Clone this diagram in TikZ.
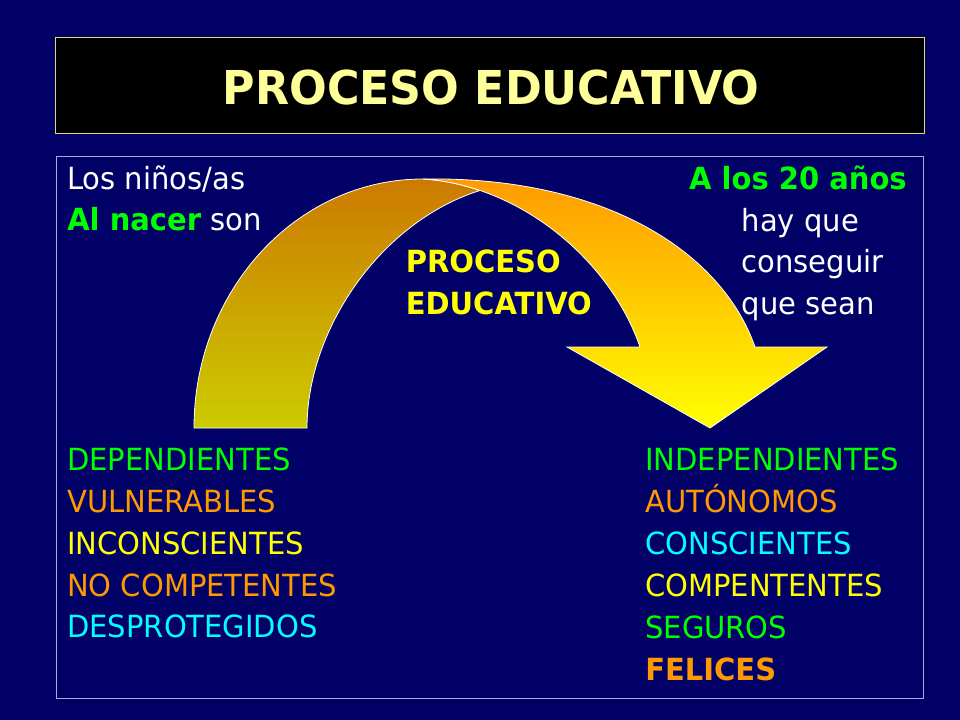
\documentclass[tikz,border=0pt]{standalone}
\usepackage{fontspec}
\setmainfont[FakeStretch=0.95]{DejaVu Sans}
\usepackage{tikz}
\definecolor{fondo}{RGB}{0,0,102}
\definecolor{titulo}{RGB}{255,255,153}
\definecolor{verde}{RGB}{0,255,0}
\definecolor{naranja}{RGB}{255,153,0}
\definecolor{amarillo}{RGB}{255,255,0}
\definecolor{cian}{RGB}{0,255,255}
\definecolor{marco}{RGB}{170,170,220}

\begin{document}
\begin{tikzpicture}[x=0.75pt,y=0.75pt,yscale=-1,xscale=1,
  texto/.style={anchor=base west,inner sep=0pt,font=\fontsize{22.9}{27}\selectfont},
  negrita/.style={texto,font=\fontsize{22.9}{27}\selectfont\bfseries}]
%set diagram: 960 x 720
\fill [fondo] (0,0) rectangle (960,720);

%Shape: Rectangle (title)
\draw [color={rgb, 255:red, 220; green, 220; blue, 110 },line width=1.1,fill=black] (55.5,37.5) rectangle (924.5,133.5);
%Shape: Rectangle (content)
\draw [marco,line width=1.2] (56.5,156.5) rectangle (923.5,698.5);

%Shape: Curved Arrow (back part)
\draw [white,line width=0.6,top color={rgb, 255:red, 204; green, 122; blue, 0 },bottom color={rgb, 255:red, 204; green, 204; blue, 0 }] (194,428) .. controls (194,290.5) and (296.5,179) .. (423,179) .. controls (442.4,180.2) and (461.5,184.2) .. (479.9,190.5) .. controls (380,222) and (307,330) .. (307,428) -- cycle ;
%Shape: Curved Arrow (front part)
\draw [white,line width=0.6,top color=naranja,bottom color=amarillo] (423,179) .. controls (605,176) and (722,252) .. (755,347) -- (827,347) -- (710,428) -- (567,347) -- (640,347) .. controls (610,260) and (520,185) .. (423,179) -- cycle ;

% Text Node
\node [anchor=base,inner sep=0pt,text=titulo,font=\fontsize{35}{40}\selectfont\bfseries] (tit) at (491,105) {PROCESO EDUCATIVO};
% Text Node
\node [texto,text=white] (ninos) at (67,189.3) {Los niños/as};
% Text Node
\node [texto,text=white] (nacer) at (67,231) {{\color{verde}\bfseries Al nacer} son};
% Text Node
\node [negrita,text=verde,anchor=base east] (veinte) at (907,189.3) {A los 20 años};
% Text Node
\node [texto,text=white] (hay) at (741.5,231.5) {hay que};
% Text Node
\node [texto,text=white] (conseguir) at (741.5,273) {conseguir};
% Text Node
\node [texto,text=white] (sean) at (741.5,314.5) {que sean};
% Text Node
\node [negrita,text=amarillo] (proc) at (405.5,273) {PROCESO};
% Text Node
\node [negrita,text=amarillo] (educ) at (405.5,315) {EDUCATIVO};

% Text Node
\node [texto,text=verde] (dep) at (67,470) {DEPENDIENTES};
% Text Node
\node [texto,text=naranja] (vul) at (67,512.5) {VULNERABLES};
% Text Node
\node [texto,text=amarillo] (incon) at (67,554) {INCONSCIENTES};
% Text Node
\node [texto,text=naranja] (nocomp) at (67,596) {NO COMPETENTES};
% Text Node
\node [texto,text=cian] (desp) at (67,637) {DESPROTEGIDOS};

% Text Node
\node [texto,text=verde] (indep) at (645,470) {INDEPENDIENTES};
% Text Node
\node [texto,text=naranja] (auton) at (645,512.5) {AUTÓNOMOS};
% Text Node
\node [texto,text=cian] (consc) at (645,554) {CONSCIENTES};
% Text Node
\node [texto,text=amarillo] (compet) at (645,596) {COMPENTENTES};
% Text Node
\node [texto,text=verde] (seg) at (645,638.3) {SEGUROS};
% Text Node
\node [negrita,text=naranja] (feli) at (645,680.7) {FELICES};

\end{tikzpicture}
\end{document}
